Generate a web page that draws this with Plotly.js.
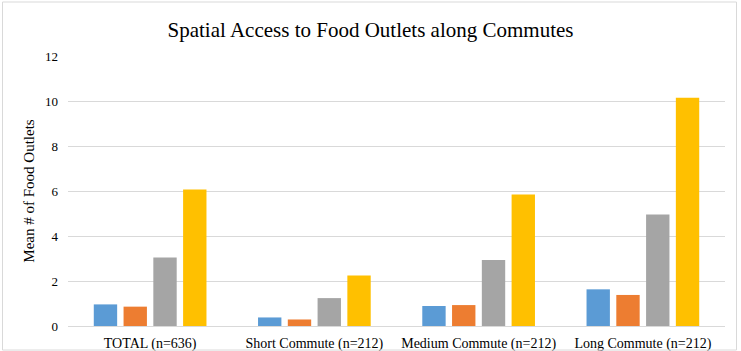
<!DOCTYPE html>
<html>
<head>
<meta charset="utf-8">
<script src="https://cdn.plot.ly/plotly-3.0.1.min.js"></script>
<style>
  html, body { margin: 0; padding: 0; background: #fff; }
  #chart { width: 741px; height: 351px; }
</style>
</head>
<body>
<div id="chart"></div>
<script>
// Commute groups along the x axis
const categories = ['TOTAL (n=636)', 'Short Commute (n=212)', 'Medium Commute (n=212)', 'Long Commute (n=212)'];

// Mean number of food outlets per group, one array per series
const series1 = [0.96, 0.38, 0.89, 1.63];
const series2 = [0.86, 0.29, 0.93, 1.38];
const series3 = [3.04, 1.24, 2.93, 4.96];
const series4 = [6.07, 2.24, 5.85, 10.15];

const seriesNames = ['Series 1', 'Series 2', 'Series 3', 'Series 4'];
const seriesColors = ['#5B9BD5', '#ED7D31', '#A5A5A5', '#FFC000'];
const seriesValues = [series1, series2, series3, series4];

const yTicks = [0, 2, 4, 6, 8, 10, 12];

const font = 'Liberation Serif, Times New Roman, serif';

const traces = seriesValues.map((vals, i) => ({
  type: 'bar',
  name: seriesNames[i],
  x: categories,
  y: vals,
  marker: { color: seriesColors[i] },
  hoverinfo: 'x+y'
}));

const layout = {
  width: 741,
  height: 351,
  margin: { l: 68, r: 16, t: 56, b: 25 },
  paper_bgcolor: '#fff',
  plot_bgcolor: '#fff',
  showlegend: false,
  barmode: 'group',
  bargap: 0.275,
  bargroupgap: 0.215,
  title: {
    text: 'Spatial Access to Food Outlets along Commutes',
    font: { family: font, size: 21, color: '#000' },
    x: 0.5, xanchor: 'center',
    y: 0.915, yanchor: 'middle'
  },
  xaxis: {
    type: 'category',
    tickfont: { family: font, size: 14, color: '#000' },
    ticklabelstandoff: 4,
    showline: true,
    linecolor: '#D9D9D9',
    linewidth: 1,
    ticks: '',
    showgrid: false
  },
  yaxis: {
    range: [0, 12],
    tickvals: yTicks,
    ticktext: yTicks.map(String),
    tickfont: { family: font, size: 13, color: '#000' },
    ticklabelstandoff: 9,
    gridcolor: '#D9D9D9',
    gridwidth: 1,
    zeroline: false,
    showline: false,
    ticks: '',
    ticklen: 0,
    title: {
      text: 'Mean # of Food Outlets',
      font: { family: font, size: 15, color: '#000' },
      standoff: 6
    }
  },
  shapes: [{
    type: 'rect',
    xref: 'paper', yref: 'paper',
    x0: -0.0997, x1: 1.0175, y0: -0.089, y1: 1.2,
    line: { color: '#D9D9D9', width: 1 },
    fillcolor: 'rgba(0,0,0,0)'
  }]
};

Plotly.newPlot('chart', traces, layout, { displayModeBar: false, staticPlot: true });
</script>
</body>
</html>
